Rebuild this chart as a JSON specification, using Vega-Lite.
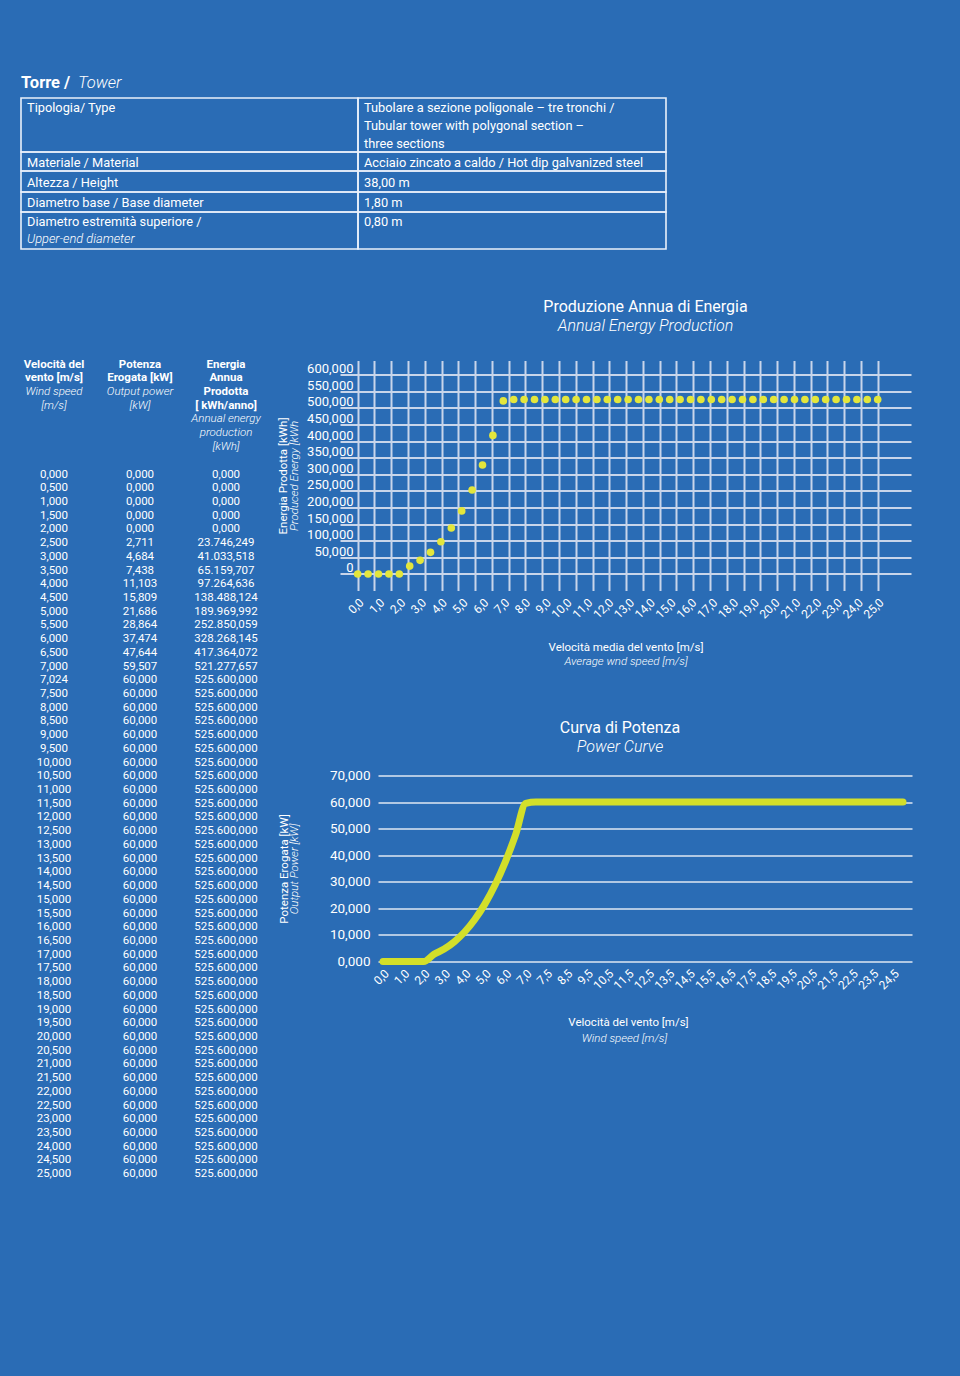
{
  "$schema": "https://vega.github.io/schema/vega-lite/v6.json",
  "background": "#2a6cb5",
  "padding": {"left": 20, "top": 69.5, "right": 48, "bottom": 0},
  "autosize": {"type": "pad"},
  "bounds": "flush",
  "spacing": 110,
  "config": {
    "view": {"stroke": null},
    "font": "Roboto",
    "locale": {"number": {"decimal": ",", "thousands": ".", "grouping": [3], "currency": ["€ ", ""]}},
    "text": {"color": "#ffffff", "font": "Roboto"},
    "axis": {"domain": false, "ticks": false, "labelColor": "#ffffff", "titleColor": "#ffffff", "labelFont": "Roboto", "titleFont": "Roboto", "titleFontWeight": "normal", "labelOverlap": false, "labelFlush": false, "grid": false},
    "title": {"color": "#ffffff", "subtitleColor": "#ffffff", "font": "Roboto", "subtitleFont": "Roboto", "fontWeight": "normal", "fontSize": 16, "subtitleFontSize": 16, "subtitleFontStyle": "italic", "subtitleFontWeight": 300, "anchor": "middle"}
  },
  "datasets": {
    "wind": [
      {"speed": 0, "power": 0, "energy": 0},
      {"speed": 0.5, "power": 0, "energy": 0},
      {"speed": 1, "power": 0, "energy": 0},
      {"speed": 1.5, "power": 0, "energy": 0},
      {"speed": 2, "power": 0, "energy": 0},
      {"speed": 2.5, "power": 2.711, "energy": 23746.249},
      {"speed": 3, "power": 4.684, "energy": 41033.518},
      {"speed": 3.5, "power": 7.438, "energy": 65159.707},
      {"speed": 4, "power": 11.103, "energy": 97264.636},
      {"speed": 4.5, "power": 15.809, "energy": 138488.124},
      {"speed": 5, "power": 21.686, "energy": 189969.992},
      {"speed": 5.5, "power": 28.864, "energy": 252850.059},
      {"speed": 6, "power": 37.474, "energy": 328268.145},
      {"speed": 6.5, "power": 47.644, "energy": 417364.072},
      {"speed": 7, "power": 59.507, "energy": 521277.657},
      {"speed": 7.024, "power": 60, "energy": 525600},
      {"speed": 7.5, "power": 60, "energy": 525600},
      {"speed": 8, "power": 60, "energy": 525600},
      {"speed": 8.5, "power": 60, "energy": 525600},
      {"speed": 9, "power": 60, "energy": 525600},
      {"speed": 9.5, "power": 60, "energy": 525600},
      {"speed": 10, "power": 60, "energy": 525600},
      {"speed": 10.5, "power": 60, "energy": 525600},
      {"speed": 11, "power": 60, "energy": 525600},
      {"speed": 11.5, "power": 60, "energy": 525600},
      {"speed": 12, "power": 60, "energy": 525600},
      {"speed": 12.5, "power": 60, "energy": 525600},
      {"speed": 13, "power": 60, "energy": 525600},
      {"speed": 13.5, "power": 60, "energy": 525600},
      {"speed": 14, "power": 60, "energy": 525600},
      {"speed": 14.5, "power": 60, "energy": 525600},
      {"speed": 15, "power": 60, "energy": 525600},
      {"speed": 15.5, "power": 60, "energy": 525600},
      {"speed": 16, "power": 60, "energy": 525600},
      {"speed": 16.5, "power": 60, "energy": 525600},
      {"speed": 17, "power": 60, "energy": 525600},
      {"speed": 17.5, "power": 60, "energy": 525600},
      {"speed": 18, "power": 60, "energy": 525600},
      {"speed": 18.5, "power": 60, "energy": 525600},
      {"speed": 19, "power": 60, "energy": 525600},
      {"speed": 19.5, "power": 60, "energy": 525600},
      {"speed": 20, "power": 60, "energy": 525600},
      {"speed": 20.5, "power": 60, "energy": 525600},
      {"speed": 21, "power": 60, "energy": 525600},
      {"speed": 21.5, "power": 60, "energy": 525600},
      {"speed": 22, "power": 60, "energy": 525600},
      {"speed": 22.5, "power": 60, "energy": 525600},
      {"speed": 23, "power": 60, "energy": 525600},
      {"speed": 23.5, "power": 60, "energy": 525600},
      {"speed": 24, "power": 60, "energy": 525600},
      {"speed": 24.5, "power": 60, "energy": 525600},
      {"speed": 25, "power": 60, "energy": 525600}
    ],
    "spec": [
      {"col": 0, "line": -1.3, "text": "Torre /", "style": "head"},
      {"col": 0, "line": -1.3, "text": "Tower", "style": "headit"},
      {"col": 0, "line": 0, "text": "Tipologia/ Type", "style": "regular"},
      {"col": 1, "line": 0, "text": "Tubolare a sezione poligonale – tre tronchi /", "style": "regular"},
      {"col": 1, "line": 1, "text": "Tubular tower with polygonal section –", "style": "regular"},
      {"col": 1, "line": 2, "text": "three sections", "style": "regular"},
      {"col": 0, "line": 3, "text": "Materiale / Material", "style": "regular"},
      {"col": 1, "line": 3, "text": "Acciaio zincato a caldo / Hot dip galvanized steel", "style": "regular"},
      {"col": 0, "line": 4, "text": "Altezza / Height", "style": "regular"},
      {"col": 1, "line": 4, "text": "38,00 m", "style": "regular"},
      {"col": 0, "line": 5, "text": "Diametro base / Base diameter", "style": "regular"},
      {"col": 1, "line": 5, "text": "1,80 m", "style": "regular"},
      {"col": 0, "line": 6, "text": "Diametro estremità superiore /", "style": "regular"},
      {"col": 1, "line": 6, "text": "0,80 m", "style": "regular"},
      {"col": 0, "line": 7, "text": "Upper-end diameter", "style": "italic"}
    ],
    "cells": [
      {"c0": 0, "c1": 1, "r0": -0.5, "r1": 2.5},
      {"c0": 1, "c1": 2, "r0": -0.5, "r1": 2.5},
      {"c0": 0, "c1": 1, "r0": 2.5, "r1": 3.5},
      {"c0": 1, "c1": 2, "r0": 2.5, "r1": 3.5},
      {"c0": 0, "c1": 1, "r0": 3.5, "r1": 4.5},
      {"c0": 1, "c1": 2, "r0": 3.5, "r1": 4.5},
      {"c0": 0, "c1": 1, "r0": 4.5, "r1": 5.5},
      {"c0": 1, "c1": 2, "r0": 4.5, "r1": 5.5},
      {"c0": 0, "c1": 1, "r0": 5.5, "r1": 7.5},
      {"c0": 1, "c1": 2, "r0": 5.5, "r1": 7.5}
    ],
    "header": [
      {"col": "speed", "line": 0, "text": "Velocità del", "style": "bold"},
      {"col": "speed", "line": 1, "text": "vento [m/s]", "style": "bold"},
      {"col": "speed", "line": 2, "text": "Wind speed", "style": "italic"},
      {"col": "speed", "line": 3, "text": "[m/s]", "style": "italic"},
      {"col": "power", "line": 0, "text": "Potenza", "style": "bold"},
      {"col": "power", "line": 1, "text": "Erogata [kW]", "style": "bold"},
      {"col": "power", "line": 2, "text": "Output power", "style": "italic"},
      {"col": "power", "line": 3, "text": "[kW]", "style": "italic"},
      {"col": "energy", "line": 0, "text": "Energia", "style": "bold"},
      {"col": "energy", "line": 1, "text": "Annua", "style": "bold"},
      {"col": "energy", "line": 2, "text": "Prodotta", "style": "bold"},
      {"col": "energy", "line": 3, "text": "[ kWh/anno]", "style": "bold"},
      {"col": "energy", "line": 4, "text": "Annual energy", "style": "italic"},
      {"col": "energy", "line": 5, "text": "production", "style": "italic"},
      {"col": "energy", "line": 6, "text": "[kWh]", "style": "italic"}
    ]
  },
  "vconcat": [
    {
      "width": 647,
      "height": 180.5,
      "layer": [
        {
          "data": {"name": "cells"},
          "mark": {"type": "rect", "filled": false, "stroke": "#e9f0fa", "strokeWidth": 1.6},
          "encoding": {
            "x": {"field": "c0", "type": "quantitative", "scale": {"domain": [0, 1, 2], "range": [1, 338, 646], "nice": false, "zero": false}, "axis": null},
            "x2": {"field": "c1"},
            "y": {"field": "r0", "type": "quantitative", "scale": {"domain": [-2, -0.5, 2.5, 3.5, 4.5, 5.5, 7.5], "range": [0, 28.5, 82.5, 101.5, 122.5, 142.5, 179.5], "nice": false, "zero": false}, "axis": null},
            "y2": {"field": "r1"}
          }
        },
        {
          "data": {"name": "spec"},
          "transform": [{"filter": "datum.style === 'regular'"}],
          "mark": {"type": "text", "align": "left", "baseline": "middle", "dx": 6, "dy": 1, "fontSize": 12.8, "color": "#ffffff"},
          "encoding": {
            "x": {"field": "col", "type": "quantitative"},
            "y": {"field": "line", "type": "quantitative"},
            "text": {"field": "text"}
          }
        },
        {
          "data": {"name": "spec"},
          "transform": [{"filter": "datum.style === 'italic'"}],
          "mark": {"type": "text", "align": "left", "baseline": "middle", "dx": 6, "dy": -1, "fontSize": 12.8, "fontStyle": "italic", "fontWeight": 300, "color": "#ffffff"},
          "encoding": {
            "x": {"field": "col", "type": "quantitative"},
            "y": {"field": "line", "type": "quantitative"},
            "text": {"field": "text"}
          }
        },
        {
          "data": {"name": "spec"},
          "transform": [{"filter": "datum.style === 'head'"}],
          "mark": {"type": "text", "align": "left", "baseline": "middle", "dx": 0, "fontSize": 16.5, "fontWeight": "bold", "color": "#ffffff"},
          "encoding": {
            "x": {"field": "col", "type": "quantitative"},
            "y": {"field": "line", "type": "quantitative"},
            "text": {"field": "text"}
          }
        },
        {
          "data": {"name": "spec"},
          "transform": [{"filter": "datum.style === 'headit'"}],
          "mark": {"type": "text", "align": "left", "baseline": "middle", "dx": 57, "fontSize": 16.5, "fontStyle": "italic", "fontWeight": 300, "color": "#ffffff"},
          "encoding": {
            "x": {"field": "col", "type": "quantitative"},
            "y": {"field": "line", "type": "quantitative"},
            "text": {"field": "text"}
          }
        }
      ]
    },
    {
      "hconcat": [
        {
          "width": 240,
          "height": 1016,
          "layer": [
            {
              "data": {"name": "header"},
              "transform": [{"filter": "datum.style === 'bold'"}],
              "mark": {"type": "text", "fontWeight": "bold", "fontSize": 11.5, "align": "center", "baseline": "middle"},
              "encoding": {
                "x": {"field": "col", "type": "nominal", "scale": {"type": "point", "domain": ["speed", "power", "energy"], "padding": 0.395}, "axis": null},
                "y": {"field": "line", "type": "quantitative", "scale": {"domain": [-0.3, 73.75], "reverse": true, "nice": false, "zero": false}, "axis": null},
                "text": {"field": "text"}
              }
            },
            {
              "data": {"name": "header"},
              "transform": [{"filter": "datum.style === 'italic'"}],
              "mark": {"type": "text", "fontStyle": "italic", "fontWeight": 300, "fontSize": 11.5, "align": "center", "baseline": "middle"},
              "encoding": {
                "x": {"field": "col", "type": "nominal", "scale": {"type": "point", "domain": ["speed", "power", "energy"], "padding": 0.395}, "axis": null},
                "y": {"field": "line", "type": "quantitative", "scale": {"domain": [-0.3, 73.75], "reverse": true, "nice": false, "zero": false}, "axis": null},
                "text": {"field": "text"}
              }
            },
            {
              "data": {"name": "wind"},
              "mark": {"type": "text", "fontSize": 11.5, "align": "center", "baseline": "middle"},
              "encoding": {
                "x": {"datum": "speed", "type": "nominal", "scale": {"type": "point", "domain": ["speed", "power", "energy"], "padding": 0.395}, "axis": null},
                "y": {"field": "speed", "type": "ordinal", "scale": {"type": "point", "range": [114, 813.7], "padding": 0}, "axis": null},
                "text": {"field": "speed", "type": "quantitative", "format": ".3f"}
              }
            },
            {
              "data": {"name": "wind"},
              "mark": {"type": "text", "fontSize": 11.5, "align": "center", "baseline": "middle"},
              "encoding": {
                "x": {"datum": "power", "type": "nominal", "scale": {"type": "point", "domain": ["speed", "power", "energy"], "padding": 0.395}, "axis": null},
                "y": {"field": "speed", "type": "ordinal", "scale": {"type": "point", "range": [114, 813.7], "padding": 0}, "axis": null},
                "text": {"field": "power", "type": "quantitative", "format": ".3f"}
              }
            },
            {
              "data": {"name": "wind"},
              "mark": {"type": "text", "fontSize": 11.5, "align": "center", "baseline": "middle"},
              "encoding": {
                "x": {"datum": "energy", "type": "nominal", "scale": {"type": "point", "domain": ["speed", "power", "energy"], "padding": 0.395}, "axis": null},
                "y": {"field": "speed", "type": "ordinal", "scale": {"type": "point", "range": [114, 813.7], "padding": 0}, "axis": null},
                "text": {"field": "energy", "type": "quantitative", "format": ",.3f"}
              }
            }
          ],
          "resolve": {"scale": {"y": "independent"}}
        },
        {
          "vconcat": [
            {
              "width": 571,
              "height": 230,
              "title": {"text": "Produzione Annua di Energia", "subtitle": "Annual Energy Production", "dx": 20, "offset": 27, "subtitlePadding": 3},
              "data": {"name": "wind"},
              "transform": [{"filter": "datum.speed !== 7.024"}],
              "layer": [
                {
                  "mark": {"type": "point", "filled": true, "size": 58, "color": "#e3e63c", "opacity": 1},
                  "encoding": {
                    "x": {
                      "field": "speed", "type": "quantitative",
                      "scale": {"domain": [-0.851, 26.601], "nice": false, "zero": false},
                      "axis": {"orient": "bottom", "values": [0,1,2,3,4,5,6,7,8,9,10,11,12,13,14,15,16,17,18,19,20,21,22,23,24,25], "grid": false, "labelAngle": -45, "labelExpr": "replace(format(datum.value, '.1f'), '.', ',')", "labelFontSize": 12, "labelPadding": 6, "title": "Velocità media del vento [m/s]", "titleFontSize": 11.5, "titlePadding": 21}
                    },
                    "y": {
                      "field": "energy", "type": "quantitative",
                      "scale": {"domain": [-49700, 643000], "nice": false, "zero": false},
                      "axis": {"orient": "left", "offset": -17, "values": [0,50000,100000,150000,200000,250000,300000,350000,400000,450000,500000,550000,600000], "grid": false, "labelExpr": "datum.value === 0 ? '0' : replace(format(datum.value, ','), '.', ',')", "labelFontSize": 13, "labelOffset": -6, "labelPadding": 4, "title": "Energia Prodotta [kWh]", "titleFontSize": 11.5, "titlePadding": 18}
                    }
                  }
                },
                {
                  "mark": {"type": "point", "opacity": 0},
                  "encoding": {
                    "x": {
                      "field": "speed", "type": "quantitative",
                      "axis": {"orient": "bottom", "values": [0,0.806452,1.612903,2.419355,3.225806,4.032258,4.83871,5.645161,6.451613,7.258065,8.064516,8.870968,9.677419,10.483871,11.290323,12.096774,12.903226,13.709677,14.516129,15.322581,16.129032,16.935484,17.741935,18.548387,19.354839,20.16129,20.967742,21.774194,22.580645,23.387097,24.193548,25], "grid": true, "gridColor": "#c8d5ea", "gridWidth": 2, "labels": false, "title": "Average wnd speed [m/s]", "titleFontStyle": "italic", "titleFontWeight": 300, "titleFontSize": 11.5, "titlePadding": 65}
                    },
                    "y": {
                      "field": "energy", "type": "quantitative",
                      "axis": {"orient": "left", "values": [0,50000,100000,150000,200000,250000,300000,350000,400000,450000,500000,550000,600000], "grid": true, "gridColor": "#c8d5ea", "gridWidth": 2, "labels": false, "title": "Produced Energy [kWh", "titleFontStyle": "italic", "titleFontWeight": 300, "titleFontSize": 11.5, "titlePadding": 41}
                    }
                  }
                }
              ],
              "resolve": {"axis": {"x": "independent", "y": "independent"}}
            },
            {
              "hconcat": [
                {
                  "width": 1,
                  "height": 1,
                  "data": {"values": [{"a": 1}]},
                  "mark": {"type": "text", "text": ""},
                  "encoding": {}
                },
                {
                  "width": 534,
                  "height": 186,
                  "title": {"text": "Curva di Potenza", "subtitle": "Power Curve", "dx": -25, "offset": 14, "subtitlePadding": 3},
                  "data": {"name": "wind"},
                  "layer": [
                    {
                      "mark": {"type": "line", "color": "#d3df2a", "strokeWidth": 7, "strokeCap": "round", "strokeJoin": "round", "interpolate": "monotone"},
                      "encoding": {
                        "x": {
                          "field": "speed", "type": "ordinal",
                          "scale": {"type": "point", "padding": 0.6866, "align": 0.357},
                          "axis": {"orient": "bottom", "values": [0,1,2,3,4,5,6,7,7.5,8.5,9.5,10.5,11.5,12.5,13.5,14.5,15.5,16.5,17.5,18.5,19.5,20.5,21.5,22.5,23.5,24.5], "labelAngle": -45, "labelExpr": "replace(format(datum.value, '.1f'), '.', ',')", "labelFontSize": 12, "labelPadding": 6, "title": "Velocità del vento [m/s]", "titleFontSize": 11.5, "titlePadding": 25, "titleX": 250}
                        },
                        "y": {
                          "field": "power", "type": "quantitative",
                          "scale": {"domain": [0, 70], "nice": false, "zero": false},
                          "axis": {"orient": "left", "values": [0,10,20,30,40,50,60,70], "grid": true, "gridColor": "#dfe7f3", "gridWidth": 1.6, "labelExpr": "replace(format(datum.value, '.3f'), '.', ',')", "labelFontSize": 13.5, "labelPadding": 8, "title": "Potenza Erogata [kW]", "titleFontSize": 11.5, "titlePadding": 40}
                        }
                      }
                    },
                    {
                      "mark": {"type": "point", "opacity": 0},
                      "encoding": {
                        "x": {
                          "field": "speed", "type": "ordinal",
                          "axis": {"orient": "bottom", "labels": false, "title": "Wind speed [m/s]", "titleFontStyle": "italic", "titleFontWeight": 300, "titleFontSize": 11.5, "titlePadding": 71, "titleX": 246}
                        },
                        "y": {
                          "field": "power", "type": "quantitative",
                          "axis": {"orient": "left", "labels": false, "grid": false, "title": "Output Power [kW]", "titleFontStyle": "italic", "titleFontWeight": 300, "titleFontSize": 11.5, "titlePadding": 79}
                        }
                      }
                    }
                  ],
                  "resolve": {"axis": {"x": "independent", "y": "independent"}}
                }
              ],
              "spacing": 37,
              "bounds": "flush"
            }
          ],
          "spacing": 185,
          "bounds": "flush"
        }
      ],
      "spacing": 80,
      "bounds": "flush"
    }
  ]
}
